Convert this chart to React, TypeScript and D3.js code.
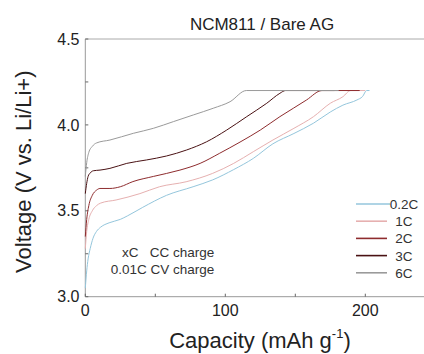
import React from "react";
import * as d3 from "d3";

const seriesNames = ["0.2C", "1C", "2C", "3C", "6C"];
const seriesColors = ["#94c6dc", "#e6b0b0", "#8e2c2e", "#4a1214", "#9a9a9a"];

const cap02 = [0, 1, 2, 3.5, 5.5, 8, 11, 17, 25, 30, 41, 58, 77, 91, 106, 120, 134, 149, 163, 175, 184, 194, 198, 201, 203];
const v02 = [3.05, 3.15, 3.22, 3.28, 3.34, 3.38, 3.405, 3.43, 3.45, 3.47, 3.52, 3.59, 3.64, 3.68, 3.74, 3.805, 3.89, 3.95, 4.01, 4.075, 4.115, 4.145, 4.165, 4.2, 4.2];

const cap1 = [0, 1, 2.5, 5, 8, 11, 22, 39, 53, 72, 91, 106, 120, 134, 149, 163, 175, 184, 189.5, 200];
const v1 = [3.28, 3.38, 3.45, 3.5, 3.53, 3.545, 3.563, 3.6, 3.64, 3.669, 3.718, 3.776, 3.844, 3.912, 3.98, 4.048, 4.126, 4.164, 4.2, 4.2];

const cap2 = [0, 1, 2.5, 5, 8, 10.5, 17.6, 25, 34, 48.6, 67.6, 82, 96, 110.5, 125, 139, 148.6, 158, 169, 196];
const v2 = [3.35, 3.45, 3.53, 3.59, 3.62, 3.63, 3.63, 3.64, 3.67, 3.7, 3.737, 3.776, 3.835, 3.9, 3.97, 4.048, 4.097, 4.145, 4.2, 4.2];

const cap3 = [0, 1, 2, 3.5, 5.7, 10.5, 17.6, 29.6, 43.8, 58, 72.4, 86.7, 101, 115.3, 129.6, 139, 143, 178];
const v3 = [3.6, 3.66, 3.7, 3.72, 3.733, 3.737, 3.747, 3.776, 3.796, 3.819, 3.854, 3.902, 3.97, 4.048, 4.126, 4.184, 4.2, 4.2];

const cap6 = [0, 1, 2.5, 5, 8, 17.6, 34.3, 48.6, 62.9, 77.2, 91.4, 103.4, 115, 181];
const v6 = [3.7, 3.78, 3.84, 3.875, 3.895, 3.912, 3.951, 3.98, 4.019, 4.058, 4.097, 4.135, 4.2, 4.2];

const capSeries = [cap02, cap1, cap2, cap3, cap6];
const voltSeries = [v02, v1, v2, v3, v6];

const xMajorTicks = [0, 100, 200];
const xMinorTicks = [50, 150];
const yLabelTicks = [3.0, 3.5, 4.0, 4.5];
const yAllTicks = [3.0, 3.25, 3.5, 3.75, 4.0, 4.25, 4.5];

const FONT = "Arial, 'Liberation Sans', Helvetica, sans-serif";

export default function App() {
  const W = 424, H = 354;
  const x = d3.scaleLinear().domain([0, 250]).range([85.3, 435.3]);
  const y = d3.scaleLinear().domain([3.0, 4.5]).range([296.7, 39]);
  const line = d3
    .line<[number, number]>()
    .x((d) => x(d[0]))
    .y((d) => y(d[1]))
    .curve(d3.curveMonotoneX);

  const axisColor = "#999";
  const legendY0 = 204;
  const legendStep = 17.2;

  return (
    <div style={{ position: "fixed", left: 0, top: 0 }}>
      <svg width={W} height={H} style={{ display: "block", background: "#fff" }} fontFamily={FONT}>
        {/* frame */}
        <line x1={x(0)} x2={W} y1={y(4.5)} y2={y(4.5)} stroke="#aaa" strokeWidth={1} />
        <line x1={x(0)} x2={W} y1={y(3.0)} y2={y(3.0)} stroke={axisColor} strokeWidth={1} />
        <line x1={x(0)} x2={x(0)} y1={y(4.5)} y2={y(3.0)} stroke={axisColor} strokeWidth={1} />

        {/* x ticks */}
        {xMajorTicks.concat(xMinorTicks).map((t) => (
          <line key={"xt" + t} x1={x(t)} x2={x(t)} y1={y(3.0)} y2={y(3.0) - 3} stroke="#666" strokeWidth={1} />
        ))}
        {xMajorTicks.map((t) => (
          <text key={"xl" + t} x={x(t)} y={315.5} fontSize={16} textAnchor="middle" fill="#222">
            {t}
          </text>
        ))}

        {/* y ticks */}
        {yAllTicks.map((t) => (
          <line key={"yt" + t} x1={x(0)} x2={x(0) + 3} y1={y(t)} y2={y(t)} stroke="#666" strokeWidth={1} />
        ))}
        {yLabelTicks.map((t) => (
          <text key={"yl" + t} x={79.5} y={y(t) + 5.6} fontSize={16} textAnchor="end" fill="#222">
            {t.toFixed(1)}
          </text>
        ))}

        {/* curves */}
        {capSeries.map((caps, i) => {
          const pts: [number, number][] = caps.map((c, j) => [c, voltSeries[i][j]]);
          return (
            <path key={"s" + i} d={line(pts) || ""} fill="none" stroke={seriesColors[i]} strokeWidth={1} />
          );
        })}

        {/* legend */}
        {seriesNames.map((n, i) => (
          <g key={"lg" + i}>
            <line
              x1={356}
              x2={i === 0 ? 390 : 387}
              y1={legendY0 + i * legendStep}
              y2={legendY0 + i * legendStep}
              stroke={seriesColors[i]}
              strokeWidth={1.6}
            />
            <text x={404} y={legendY0 + i * legendStep + 5} fontSize={13.5} textAnchor="middle" fill="#333">
              {n}
            </text>
          </g>
        ))}

        {/* annotation */}
        <text x={214.3} y={256.5} fontSize={13.5} textAnchor="end" fill="#333" xmlSpace="preserve">
          {"xC   CC charge"}
        </text>
        <text x={214.3} y={273.5} fontSize={13.5} textAnchor="end" fill="#333">
          0.01C CV charge
        </text>

        {/* title */}
        <text x={262} y={30} fontSize={17} textAnchor="middle" fill="#222">
          NCM811 / Bare AG
        </text>

        {/* axis titles */}
        <text x={260} y={348} fontSize={22} textAnchor="middle" fill="#222">
          Capacity (mAh g
          <tspan fontSize={13} dy={-10}>-1</tspan>
          <tspan dy={10}>)</tspan>
        </text>
        <text
          transform={`translate(31, ${171.7}) rotate(-90)`}
          fontSize={22}
          textAnchor="middle"
          fill="#222"
        >
          Voltage (V vs. Li/Li+)
        </text>
      </svg>
    </div>
  );
}
